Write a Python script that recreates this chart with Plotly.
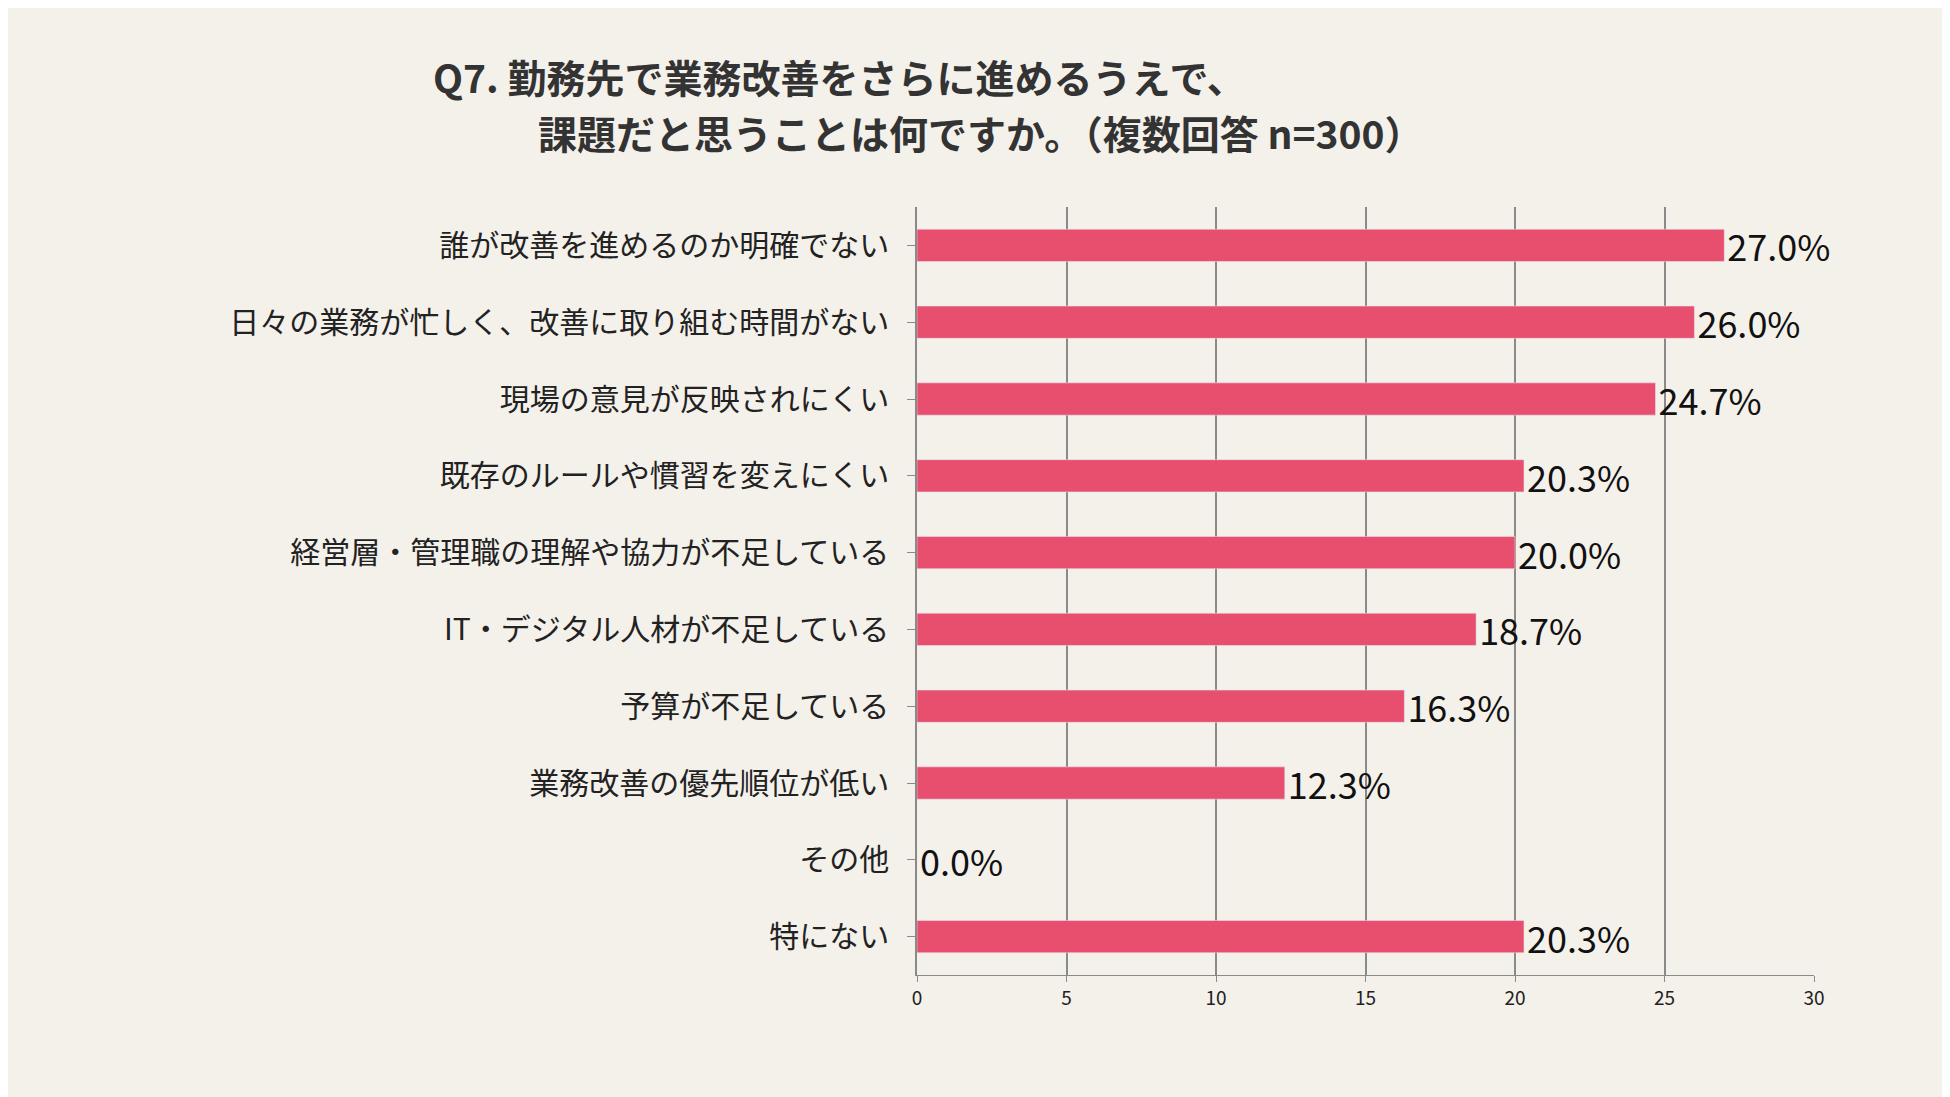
import plotly.graph_objects as go

categories = ["誰が改善を進めるのか明確でない", "日々の業務が忙しく、改善に取り組む時間がない",
              "現場の意見が反映されにくい", "既存のルールや慣習を変えにくい",
              "経営層・管理職の理解や協力が不足している", "IT・デジタル人材が不足している",
              "予算が不足している", "業務改善の優先順位が低い", "その他", "特にない"]
values = [27.0, 26.0, 24.7, 20.3, 20.0, 18.7, 16.3, 12.3, 0.0, 20.3]
labels = [f"{v:.1f}%" for v in values]

font = "Noto Sans CJK JP"
fig = go.Figure(go.Bar(
    x=values, y=categories, orientation="h", width=0.42,
    marker_color="#E84F6F", text=labels, textposition="outside", constraintext="none",
    textfont=dict(size=36, color="#111111", family=font), cliponaxis=False,
))
fig.update_layout(
    width=1950, height=1097, paper_bgcolor="#F4F0EA", plot_bgcolor="#F4F0EA",
    margin=dict(l=909, r=144, t=199, b=130), showlegend=False,
    font=dict(family=font, color="#222222"),
    uniformtext=dict(minsize=36, mode="show"),
    annotations=[
        dict(text="<b>Q7. 勤務先で業務改善をさらに進めるうえで、</b>", x=423, y=68, xref="paper", yref="paper",
             showarrow=False, xanchor="left", yanchor="middle", font=dict(size=39, color="#333333")),
        dict(text="<b>課題だと思うことは何ですか。（複数回答 n=300）</b>", x=528, y=124, xref="paper", yref="paper",
             showarrow=False, xanchor="left", yanchor="middle", font=dict(size=39, color="#333333")),
    ],
)
# convert pixel positions into paper coordinates
for a in fig.layout.annotations:
    a.x = (a.x - 909) / (1950 - 909 - 144)
    a.y = 1 - (a.y - 199) / (1097 - 199 - 130)
fig.update_xaxes(range=[0, 30], dtick=5, showgrid=True, gridcolor="#8a8a8a", gridwidth=1.5,
                 showline=True, linecolor="#8a8a8a", ticks="outside", tickcolor="#8a8a8a",
                 ticklen=6, tickfont=dict(size=19, color="#222222"), zeroline=False)
fig.update_yaxes(autorange="reversed", showline=True, linecolor="#8a8a8a", linewidth=1.5,
                 ticks="outside", tickcolor="#8a8a8a", ticklen=8, ticklabelstandoff=12,
                 tickfont=dict(size=30, color="#222222"))
fig.write_html("out.html")
